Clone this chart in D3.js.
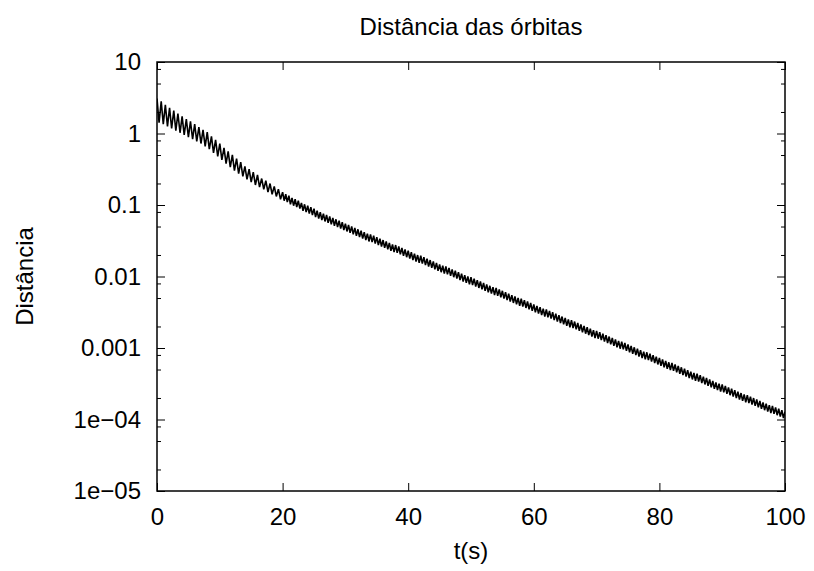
<!DOCTYPE html>
<html>
<head>
<meta charset="utf-8">
<script src="https://cdn.jsdelivr.net/npm/d3@7"></script>
<style>
  body { margin: 0; background: #fff; }
  text { font-family: "Liberation Sans", Arial, Helvetica, sans-serif; fill: #000; }
</style>
</head>
<body>
<div id="chart"></div>
<script>
const width = 814, height = 571;
const plot = { left: 157, right: 785, top: 62, bottom: 491 };
const fontSize = 24;

const title = "Distância das órbitas";
const xLabel = "t(s)";
const yLabel = "Distância";

const xTicks = [0, 20, 40, 60, 80, 100];
const yTicks = [1e-5, 1e-4, 1e-3, 1e-2, 1e-1, 1, 10];
const yTickLabels = ["1e\u221205", "1e\u221204", "0.001", "0.01", "0.1", "1", "10"];
const yMinorSteps = [2, 5, 8];

// time of each sample (s), one row per second
const timeSec = [
  0,
  .33,.67,1, 1.33,1.67,2, 2.33,2.67,3, 3.33,3.67,4, 4.33,4.67,5,
  5.33,5.67,6, 6.33,6.67,7, 7.33,7.67,8, 8.33,8.67,9, 9.33,9.67,10,
  10.33,10.67,11, 11.33,11.67,12, 12.33,12.67,13, 13.33,13.67,14, 14.33,14.67,15,
  15.33,15.67,16, 16.33,16.67,17, 17.33,17.67,18, 18.33,18.67,19, 19.33,19.67,20,
  20.25,20.5,20.75,21, 21.25,21.5,21.75,22, 22.25,22.5,22.75,23, 23.25,23.5,23.75,24, 24.25,24.5,24.75,25,
  25.25,25.5,25.75,26, 26.25,26.5,26.75,27, 27.25,27.5,27.75,28, 28.25,28.5,28.75,29, 29.25,29.5,29.75,30,
  30.25,30.5,30.75,31, 31.25,31.5,31.75,32, 32.25,32.5,32.75,33, 33.25,33.5,33.75,34, 34.25,34.5,34.75,35,
  35.25,35.5,35.75,36, 36.25,36.5,36.75,37, 37.25,37.5,37.75,38, 38.25,38.5,38.75,39, 39.25,39.5,39.75,40,
  40.25,40.5,40.75,41, 41.25,41.5,41.75,42, 42.25,42.5,42.75,43, 43.25,43.5,43.75,44, 44.25,44.5,44.75,45,
  45.25,45.5,45.75,46, 46.25,46.5,46.75,47, 47.25,47.5,47.75,48, 48.25,48.5,48.75,49, 49.25,49.5,49.75,50,
  50.25,50.5,50.75,51, 51.25,51.5,51.75,52, 52.25,52.5,52.75,53, 53.25,53.5,53.75,54, 54.25,54.5,54.75,55,
  55.25,55.5,55.75,56, 56.25,56.5,56.75,57, 57.25,57.5,57.75,58, 58.25,58.5,58.75,59, 59.25,59.5,59.75,60,
  60.25,60.5,60.75,61, 61.25,61.5,61.75,62, 62.25,62.5,62.75,63, 63.25,63.5,63.75,64, 64.25,64.5,64.75,65,
  65.25,65.5,65.75,66, 66.25,66.5,66.75,67, 67.25,67.5,67.75,68, 68.25,68.5,68.75,69, 69.25,69.5,69.75,70,
  70.25,70.5,70.75,71, 71.25,71.5,71.75,72, 72.25,72.5,72.75,73, 73.25,73.5,73.75,74, 74.25,74.5,74.75,75,
  75.25,75.5,75.75,76, 76.25,76.5,76.75,77, 77.25,77.5,77.75,78, 78.25,78.5,78.75,79, 79.25,79.5,79.75,80,
  80.25,80.5,80.75,81, 81.25,81.5,81.75,82, 82.25,82.5,82.75,83, 83.25,83.5,83.75,84, 84.25,84.5,84.75,85,
  85.25,85.5,85.75,86, 86.25,86.5,86.75,87, 87.25,87.5,87.75,88, 88.25,88.5,88.75,89, 89.25,89.5,89.75,90,
  90.25,90.5,90.75,91, 91.25,91.5,91.75,92, 92.25,92.5,92.75,93, 93.25,93.5,93.75,94, 94.25,94.5,94.75,95,
  95.25,95.5,95.75,96, 96.25,96.5,96.75,97, 97.25,97.5,97.75,98, 98.25,98.5,98.75,99, 99.25,99.5,99.75,100
];

// log10(distance) at each sample, same rows as timeSec
const logDist = [
  .49,
  .15,.45,.13, .40,.10,.36, .07,.32,.04, .28,.01,.24, -.02,.20,-.05,
  .17,-.08,.13, -.11,.09,-.14, .05,-.18,.02, -.22,-.04,-.27, -.09,-.32,-.14,
  -.37,-.20,-.42, -.25,-.47,-.30, -.52,-.35,-.56, -.40,-.60,-.46, -.64,-.50,-.68,
  -.54,-.72,-.58, -.75,-.63,-.78, -.66,-.82,-.70, -.85,-.74,-.88, -.78,-.92,-.82,
  -.94,-.85,-.96,-.87, -.99,-.90,-1.01,-.92, -1.03,-.94,-1.05,-.97, -1.08,-.99,-1.10,-1.01, -1.12,-1.03,-1.14,-1.05,
  -1.17,-1.08,-1.19,-1.10, -1.21,-1.12,-1.23,-1.14, -1.25,-1.16,-1.27,-1.18, -1.29,-1.20,-1.31,-1.22, -1.33,-1.24,-1.35,-1.26,
  -1.37,-1.28,-1.39,-1.30, -1.41,-1.32,-1.43,-1.34, -1.45,-1.36,-1.47,-1.38, -1.49,-1.40,-1.51,-1.41, -1.52,-1.43,-1.54,-1.45,
  -1.56,-1.47,-1.58,-1.49, -1.60,-1.51,-1.62,-1.53, -1.64,-1.55,-1.66,-1.56, -1.67,-1.58,-1.69,-1.60, -1.71,-1.62,-1.73,-1.64,
  -1.75,-1.66,-1.77,-1.68, -1.79,-1.70,-1.81,-1.71, -1.82,-1.73,-1.84,-1.75, -1.86,-1.77,-1.88,-1.79, -1.90,-1.81,-1.92,-1.83,
  -1.94,-1.85,-1.96,-1.86, -1.97,-1.88,-1.99,-1.90, -2.01,-1.92,-2.03,-1.94, -2.05,-1.96,-2.07,-1.98, -2.09,-2.00,-2.11,-2.01,
  -2.12,-2.03,-2.14,-2.05, -2.16,-2.07,-2.18,-2.09, -2.20,-2.11,-2.22,-2.13, -2.24,-2.15,-2.26,-2.16, -2.27,-2.18,-2.29,-2.20,
  -2.31,-2.22,-2.33,-2.24, -2.35,-2.26,-2.37,-2.28, -2.39,-2.30,-2.41,-2.31, -2.42,-2.33,-2.44,-2.35, -2.46,-2.37,-2.48,-2.39,
  -2.50,-2.41,-2.52,-2.43, -2.54,-2.45,-2.56,-2.46, -2.57,-2.48,-2.59,-2.50, -2.61,-2.52,-2.63,-2.54, -2.65,-2.56,-2.67,-2.58,
  -2.69,-2.60,-2.71,-2.61, -2.72,-2.63,-2.74,-2.65, -2.76,-2.67,-2.78,-2.69, -2.80,-2.71,-2.82,-2.73, -2.84,-2.75,-2.86,-2.76,
  -2.87,-2.78,-2.89,-2.80, -2.91,-2.82,-2.93,-2.84, -2.95,-2.86,-2.97,-2.88, -2.99,-2.90,-3.01,-2.91, -3.02,-2.93,-3.04,-2.95,
  -3.06,-2.97,-3.08,-2.99, -3.10,-3.01,-3.12,-3.03, -3.14,-3.05,-3.16,-3.06, -3.17,-3.08,-3.19,-3.10, -3.21,-3.12,-3.23,-3.14,
  -3.25,-3.16,-3.27,-3.18, -3.29,-3.20,-3.31,-3.21, -3.32,-3.23,-3.34,-3.25, -3.36,-3.27,-3.38,-3.29, -3.40,-3.31,-3.42,-3.33,
  -3.44,-3.35,-3.46,-3.36, -3.47,-3.38,-3.49,-3.40, -3.51,-3.42,-3.53,-3.44, -3.55,-3.46,-3.57,-3.48, -3.59,-3.50,-3.61,-3.51,
  -3.62,-3.53,-3.64,-3.55, -3.66,-3.57,-3.68,-3.59, -3.70,-3.61,-3.72,-3.63, -3.74,-3.65,-3.76,-3.66, -3.77,-3.68,-3.79,-3.70,
  -3.81,-3.72,-3.83,-3.74, -3.85,-3.76,-3.87,-3.78, -3.89,-3.80,-3.91,-3.81, -3.92,-3.83,-3.94,-3.85, -3.96,-3.87,-3.98,-3.89
];

const data = timeSec.map((t, i) => ({ t: t, d: Math.pow(10, logDist[i]) }));

const svg = d3.select("#chart").append("svg")
  .attr("width", width)
  .attr("height", height)
  .style("font-size", fontSize + "px");

const x = d3.scaleLinear().domain([0, 100]).range([plot.left, plot.right]);
const y = d3.scaleLog().domain([1e-5, 10]).range([plot.bottom, plot.top]);

// minor tick values on the log axis
const yMinor = [];
yTicks.slice(0, -1).forEach(v => yMinorSteps.forEach(m => yMinor.push(v * m)));

function cleanAxis(g) {
  g.select(".domain").remove();
  g.selectAll("line").attr("stroke", "#000");
}

// y axis left (labels) and right (mirror)
svg.append("g")
  .attr("transform", `translate(${plot.left},0)`)
  .call(d3.axisLeft(y).tickValues(yTicks).tickSize(-8).tickPadding(16)
    .tickFormat((d, i) => yTickLabels[i]))
  .call(cleanAxis)
  .selectAll("text").attr("font-size", fontSize).attr("font-family", null);

svg.append("g")
  .attr("transform", `translate(${plot.left},0)`)
  .call(d3.axisLeft(y).tickValues(yMinor).tickSize(-4).tickFormat(""))
  .call(cleanAxis);

svg.append("g")
  .attr("transform", `translate(${plot.right},0)`)
  .call(d3.axisRight(y).tickValues(yTicks).tickSize(-8).tickFormat(""))
  .call(cleanAxis);

svg.append("g")
  .attr("transform", `translate(${plot.right},0)`)
  .call(d3.axisRight(y).tickValues(yMinor).tickSize(-4).tickFormat(""))
  .call(cleanAxis);

// x axis bottom (labels) and top (mirror)
svg.append("g")
  .attr("transform", `translate(0,${plot.bottom})`)
  .call(d3.axisBottom(x).tickValues(xTicks).tickSize(-8).tickPadding(17).tickFormat(d3.format("d")))
  .call(cleanAxis)
  .selectAll("text").attr("font-size", fontSize).attr("font-family", null);

svg.append("g")
  .attr("transform", `translate(0,${plot.top})`)
  .call(d3.axisTop(x).tickValues(xTicks).tickSize(-8).tickFormat(""))
  .call(cleanAxis);

// the curve
svg.append("clipPath").attr("id", "clip")
  .append("rect")
  .attr("x", plot.left).attr("y", plot.top)
  .attr("width", plot.right - plot.left).attr("height", plot.bottom - plot.top);

const line = d3.line()
  .x(d => x(d.t))
  .y(d => y(d.d));

svg.append("path")
  .datum(data)
  .attr("clip-path", "url(#clip)")
  .attr("fill", "none")
  .attr("stroke", "#000")
  .attr("stroke-width", 1.6)
  .attr("stroke-linejoin", "miter")
  .attr("d", line);

// border
svg.append("rect")
  .attr("x", plot.left).attr("y", plot.top)
  .attr("width", plot.right - plot.left).attr("height", plot.bottom - plot.top)
  .attr("fill", "none")
  .attr("stroke", "#000")
  .attr("stroke-width", 1.5);

// labels
svg.append("text")
  .attr("x", (plot.left + plot.right) / 2)
  .attr("y", 35)
  .attr("text-anchor", "middle")
  .attr("font-size", fontSize)
  .text(title);

svg.append("text")
  .attr("x", (plot.left + plot.right) / 2)
  .attr("y", 559)
  .attr("text-anchor", "middle")
  .attr("font-size", fontSize)
  .text(xLabel);

svg.append("text")
  .attr("transform", `translate(33,${(plot.top + plot.bottom) / 2}) rotate(-90)`)
  .attr("text-anchor", "middle")
  .attr("font-size", fontSize)
  .text(yLabel);
</script>
</body>
</html>
